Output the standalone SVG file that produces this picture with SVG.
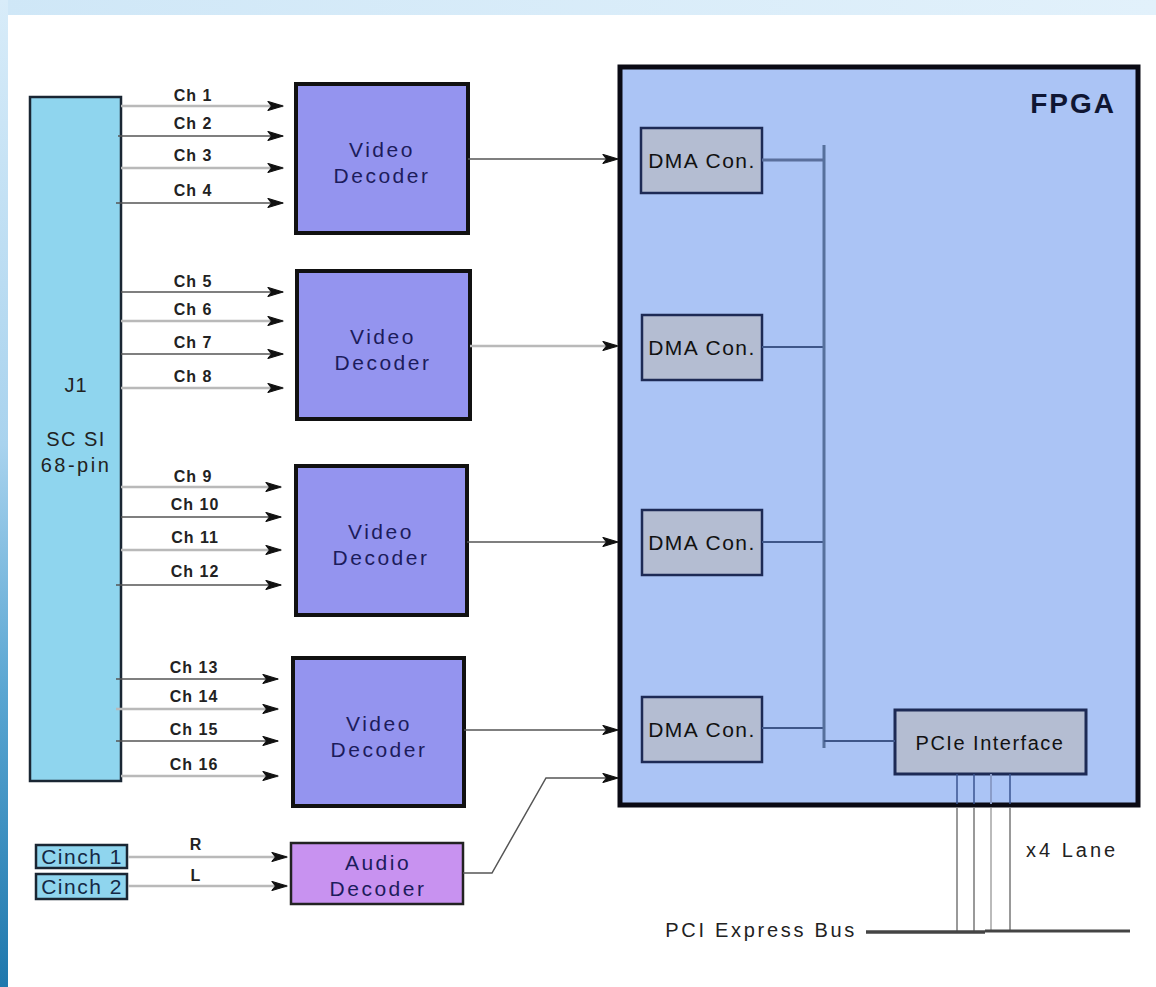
<svg xmlns="http://www.w3.org/2000/svg" width="1156" height="987" viewBox="0 0 1156 987">
<defs>
<linearGradient id="topband" x1="0" y1="0" x2="1" y2="0">
<stop offset="0" stop-color="#cfe7f7"/><stop offset="1" stop-color="#e2f1fb"/>
</linearGradient>
<linearGradient id="leftband" x1="0" y1="0" x2="0" y2="1">
<stop offset="0" stop-color="#d8ecf9"/><stop offset="0.45" stop-color="#a9d3ee"/><stop offset="0.7" stop-color="#5aa6d2"/><stop offset="1" stop-color="#1f78ad"/>
</linearGradient>
<marker id="arr" viewBox="0 0 17 11" refX="16" refY="5.5" markerWidth="17" markerHeight="11" markerUnits="userSpaceOnUse" orient="auto">
<path d="M1,1 L16,5.5 L1,10 L4.5,5.5 Z" fill="#111" stroke="#111" stroke-width="1.2" stroke-linejoin="round"/>
</marker>
<style>
.lt{stroke:#b9b9b9;stroke-width:2.5;fill:none}
.dk{stroke:#555;stroke-width:1.5;fill:none}
.ch{font-family:"Liberation Sans",Arial,sans-serif;font-size:16px;font-weight:bold;fill:#222;text-anchor:middle;letter-spacing:1px}
.vd{fill:#9494ef;stroke:#111;stroke-width:4}
.vt{font-family:"Liberation Sans",Arial,sans-serif;font-size:21px;fill:#1c1c5c;text-anchor:middle;letter-spacing:2.5px}
.dma{fill:#b4bdd2;stroke:#1d2a55;stroke-width:2.5}
.dt{font-family:"Liberation Sans",Arial,sans-serif;font-size:21px;fill:#111;text-anchor:middle;letter-spacing:1.5px}
.bus{stroke:#3e5689;stroke-width:2;fill:none}
.cn{fill:#8fd5ee;stroke:#1a2633;stroke-width:2.5}
.ct{font-family:"Liberation Sans",Arial,sans-serif;font-size:21px;fill:#142844;text-anchor:middle;letter-spacing:1.5px}
.jt{font-family:"Liberation Sans",Arial,sans-serif;font-size:20px;fill:#222;text-anchor:middle}
.gt{font-family:"Liberation Sans",Arial,sans-serif;font-size:20px;fill:#222;letter-spacing:2.7px}
</style>
</defs>
<rect x="0" y="0" width="1156" height="987" fill="#ffffff"/>
<rect x="0" y="0" width="1156" height="15" fill="url(#topband)"/>
<rect x="0" y="0" width="8" height="987" fill="url(#leftband)"/>

<g id="fpga">
<rect x="620" y="67" width="518" height="738" fill="#abc4f5" stroke="#0a0a14" stroke-width="5"/>
<text x="1116" y="113" font-family="Liberation Sans,Arial,sans-serif" font-size="28" font-weight="bold" fill="#0f1633" text-anchor="end" letter-spacing="2">FPGA</text>
</g>

<g id="j1">
<rect x="30" y="97" width="91" height="684" fill="#8fd5ee" stroke="#1a2633" stroke-width="2.5"/>
<text x="76" y="392" class="jt" style="letter-spacing:1px">J1</text>
<text x="76" y="446" class="jt" style="letter-spacing:1.5px">SC SI</text>
<text x="76" y="472" class="jt" style="letter-spacing:2.5px">68-pin</text>
</g>

<g id="vd1"><rect class="vd" x="296" y="84" width="172" height="149"/><text class="vt" x="382" y="157">Video</text><text class="vt" x="382" y="183">Decoder</text></g>
<g id="vd2"><rect class="vd" x="297" y="271" width="173" height="148"/><text class="vt" x="383" y="344">Video</text><text class="vt" x="383" y="370">Decoder</text></g>
<g id="vd3"><rect class="vd" x="296" y="466" width="171" height="149"/><text class="vt" x="381" y="539">Video</text><text class="vt" x="381" y="565">Decoder</text></g>
<g id="vd4"><rect class="vd" x="293" y="658" width="171" height="148"/><text class="vt" x="379" y="731">Video</text><text class="vt" x="379" y="757">Decoder</text></g>

<g id="audio"><rect x="291" y="843" width="172" height="61" fill="#c892f0" stroke="#222" stroke-width="2.5"/><text class="vt" x="378" y="870">Audio</text><text class="vt" x="378" y="896">Decoder</text></g>

<g id="cinch1"><rect class="cn" x="36" y="845" width="91" height="23"/><text class="ct" x="82" y="864">Cinch 1</text></g>
<g id="cinch2"><rect class="cn" x="36" y="874" width="91" height="25"/><text class="ct" x="82" y="894">Cinch 2</text></g>

<g id="dma1"><rect class="dma" x="641" y="128" width="121" height="65"/><text class="dt" x="702" y="168">DMA Con.</text></g>
<g id="dma2"><rect class="dma" x="642" y="315" width="120" height="65"/><text class="dt" x="702" y="355">DMA Con.</text></g>
<g id="dma3"><rect class="dma" x="642" y="510" width="120" height="65"/><text class="dt" x="702" y="550">DMA Con.</text></g>
<g id="dma4"><rect class="dma" x="642" y="697" width="120" height="65"/><text class="dt" x="702" y="737">DMA Con.</text></g>

<g id="pcie"><rect x="895" y="710" width="191" height="64" fill="#b4bdd2" stroke="#1d2a55" stroke-width="3"/><text class="dt" x="990" y="750" style="font-size:20px">PCIe Interface</text></g>

<g id="connectors">
<line class="lt" x1="121" y1="106" x2="283" y2="106" marker-end="url(#arr)"/>
<line class="dk" x1="118" y1="136" x2="283" y2="136" marker-end="url(#arr)"/>
<line class="lt" x1="121" y1="168" x2="283" y2="168" marker-end="url(#arr)"/>
<line class="dk" x1="116" y1="203" x2="283" y2="203" marker-end="url(#arr)"/>

<line class="dk" x1="121" y1="292" x2="283" y2="292" marker-end="url(#arr)"/>
<line class="lt" x1="121" y1="321" x2="283" y2="321" marker-end="url(#arr)"/>
<line class="dk" x1="121" y1="354" x2="283" y2="354" marker-end="url(#arr)"/>
<line class="lt" x1="121" y1="388" x2="283" y2="388" marker-end="url(#arr)"/>

<line class="lt" x1="121" y1="487" x2="281" y2="487" marker-end="url(#arr)"/>
<line class="dk" x1="121" y1="517" x2="281" y2="517" marker-end="url(#arr)"/>
<line class="lt" x1="121" y1="550" x2="281" y2="550" marker-end="url(#arr)"/>
<line class="dk" x1="116" y1="585" x2="281" y2="585" marker-end="url(#arr)"/>

<line class="dk" x1="116" y1="679" x2="278" y2="679" marker-end="url(#arr)"/>
<line class="lt" x1="116" y1="709" x2="278" y2="709" marker-end="url(#arr)"/>
<line class="dk" x1="116" y1="741" x2="278" y2="741" marker-end="url(#arr)"/>
<line class="lt" x1="121" y1="776" x2="278" y2="776" marker-end="url(#arr)"/>

<line class="lt" x1="128" y1="857" x2="287" y2="857" marker-end="url(#arr)"/>
<line class="lt" x1="128" y1="886" x2="287" y2="886" marker-end="url(#arr)"/>

<line class="dk" x1="468" y1="159" x2="618" y2="159" marker-end="url(#arr)"/>
<line class="lt" x1="470" y1="346" x2="618" y2="346" marker-end="url(#arr)"/>
<line class="dk" x1="467" y1="542" x2="618" y2="542" marker-end="url(#arr)"/>
<line class="dk" x1="464" y1="730" x2="618" y2="730" marker-end="url(#arr)"/>
<polyline class="dk" points="463,873 492,873 546,778 618,778" marker-end="url(#arr)"/>

<line class="bus" x1="762" y1="160" x2="824" y2="160" style="stroke:#5a6f9c;stroke-width:3"/>
<line class="bus" x1="762" y1="347" x2="824" y2="347"/>
<line class="bus" x1="762" y1="542" x2="824" y2="542"/>
<line class="bus" x1="762" y1="728" x2="824" y2="728"/>
<line x1="824" y1="145" x2="824" y2="748" stroke="#56709c" stroke-width="3"/>
<line class="bus" x1="824" y1="741" x2="895" y2="741"/>

<line x1="957" y1="774" x2="957" y2="804" stroke="#3a5590" stroke-width="1.5"/>
<line x1="974" y1="774" x2="974" y2="804" stroke="#3a5590" stroke-width="1.5"/>
<line x1="991" y1="774" x2="991" y2="804" stroke="#8a9cc8" stroke-width="2"/>
<line x1="1010" y1="774" x2="1010" y2="804" stroke="#3a5590" stroke-width="1.5"/>
<line x1="957" y1="808" x2="957" y2="931" stroke="#777" stroke-width="1.5"/>
<line x1="974" y1="808" x2="974" y2="931" stroke="#777" stroke-width="1.5"/>
<line x1="991" y1="808" x2="991" y2="931" stroke="#bbb" stroke-width="2"/>
<line x1="1010" y1="808" x2="1010" y2="931" stroke="#777" stroke-width="1.5"/>
<line x1="866" y1="932" x2="985" y2="932" stroke="#444" stroke-width="3.5"/>
<line x1="985" y1="931" x2="1130" y2="931" stroke="#444" stroke-width="3"/>
</g>

<g id="labels">
<text class="ch" x="193" y="101">Ch 1</text>
<text class="ch" x="193" y="129">Ch 2</text>
<text class="ch" x="193" y="161">Ch 3</text>
<text class="ch" x="193" y="196">Ch 4</text>
<text class="ch" x="193" y="287">Ch 5</text>
<text class="ch" x="193" y="315">Ch 6</text>
<text class="ch" x="193" y="348">Ch 7</text>
<text class="ch" x="193" y="382">Ch 8</text>
<text class="ch" x="193" y="482">Ch 9</text>
<text class="ch" x="195" y="510">Ch 10</text>
<text class="ch" x="195" y="543">Ch 11</text>
<text class="ch" x="195" y="577">Ch 12</text>
<text class="ch" x="194" y="673">Ch 13</text>
<text class="ch" x="194" y="702">Ch 14</text>
<text class="ch" x="194" y="735">Ch 15</text>
<text class="ch" x="194" y="770">Ch 16</text>
<text class="ch" x="196" y="850">R</text>
<text class="ch" x="196" y="881">L</text>
<text class="gt" x="857" y="937" text-anchor="end">PCI Express Bus</text>
<text class="gt" x="1026" y="857" style="letter-spacing:3px">x4 Lane</text>
</g>
</svg>
